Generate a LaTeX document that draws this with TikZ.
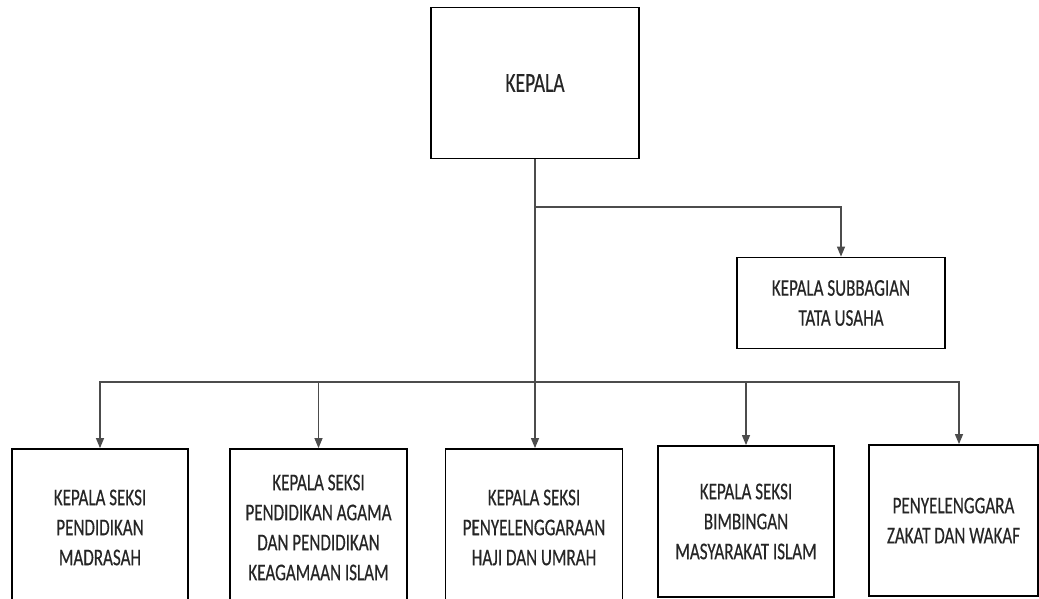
\documentclass[tikz,border=0pt]{standalone}
\usepackage{fontspec}
\setmainfont{Carlito}[FakeStretch=0.71,FakeBold=0.35]
\usetikzlibrary{arrows.meta}
\begin{document}
\begin{tikzpicture}[x=1pt,y=-1pt,
  box/.style={draw=black, line width=1.8pt, fill=white, align=center,
    inner sep=0pt, text=black!85, font=\fontsize{24}{30}\selectfont},
  link/.style={draw=black!70, line width=1.2pt},
  arr/.style={link, -{Triangle[length=10pt,width=8pt]}}]
\useasboundingbox (0,0) rectangle (1039,598);
\clip (0,0) rectangle (1039,598);

% head of office
\node[box, minimum width=208pt, minimum height=151pt,
  font=\fontsize{27.5}{32}\selectfont] (kepala) at (535,83) {KEPALA};

% administration sub-section
\node[box, minimum width=208pt, minimum height=91pt] (tu) at (841,303)
  {KEPALA SUBBAGIAN\\TATA USAHA};

% sections
\node[box, minimum width=176pt, minimum height=157pt] (s1) at (100,527.5)
  {KEPALA SEKSI\\PENDIDIKAN\\MADRASAH};
\node[box, minimum width=177pt, minimum height=157pt] (s2) at (318.5,527.5)
  {KEPALA SEKSI\\PENDIDIKAN AGAMA\\DAN PENDIDIKAN\\KEAGAMAAN ISLAM};
\node[box, minimum width=177pt, minimum height=157pt] (s3) at (534,527.5)
  {KEPALA SEKSI\\PENYELENGGARAAN\\HAJI DAN UMRAH};
\node[box, minimum width=176pt, minimum height=151pt] (s4) at (746,521.5)
  {KEPALA SEKSI\\BIMBINGAN\\MASYARAKAT ISLAM};
\node[box, minimum width=169pt, minimum height=151pt] (s5) at (953.5,520.5)
  {PENYELENGGARA\\ZAKAT DAN WAKAF};

% junctions on the trunk line
\coordinate (j1) at (535,207);
\coordinate (j2) at (535,382);

% connectors
\draw[link] (kepala) -- (j2);
\draw[arr] (j1) -| (tu);
\draw[arr] (j2) -| (s1);
\draw[arr] (j2) -| (s2);
\draw[arr] (j2) -- (j2 |- s3.north);
\draw[arr] (j2) -| (s4);
\draw[arr] (j2) -| ([xshift=5.5pt]s5.north);
\end{tikzpicture}
\end{document}
